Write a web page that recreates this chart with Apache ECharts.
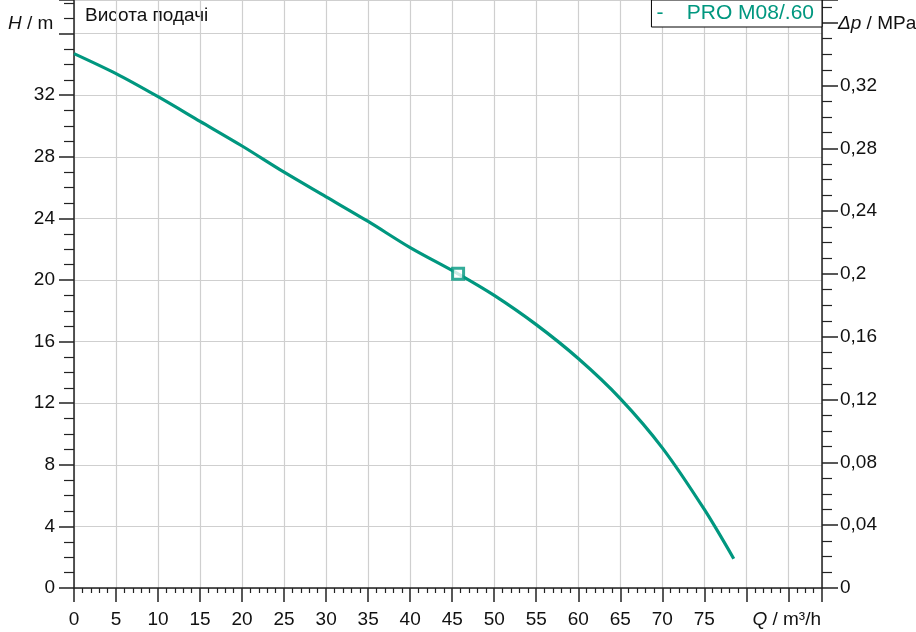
<!DOCTYPE html>
<html><head><meta charset="utf-8">
<script src="https://cdn.jsdelivr.net/npm/echarts@6/dist/echarts.min.js"></script>
<style>html,body{margin:0;padding:0;background:#fff}#c{width:916px;height:632px}</style>
</head><body><div id="c"></div>
<script>
// ---- data ----
const flowQ = [0, 5, 10, 15, 20, 25, 30, 35, 40, 45.7, 50, 55, 60, 65, 70, 75, 78.5];
const headH = [34.7, 33.4, 31.9, 30.3, 28.7, 27.0, 25.4, 23.8, 22.1, 20.4, 19.0, 17.1, 14.9, 12.3, 9.1, 5.1, 1.9];
const dutyPoint = [45.7, 20.4];
const seriesName = 'PRO M08/.60';
const chartTitle = 'Висота подачі';
const xMax = 89;
const hMax = 38.18;
const metresPerMPa = 101.97;
const hiddenXLabelsFrom = 80;
const hiddenHLabel = 36;
const hiddenPLabel = 0.36;

const teal = '#00977f';
const font = 'Liberation Sans, Arial, sans-serif';
const curve = flowQ.map((q, i) => [q, headH[i]]);

const chart = echarts.init(document.getElementById('c'), null, {renderer: 'canvas'});
chart.setOption({
  animation: false,
  backgroundColor: '#fff',
  textStyle: {fontFamily: font},
  grid: {left: 74, right: 94, top: 0, bottom: 44},
  legend: {
    data: [seriesName],
    right: 94, top: 0,
    icon: 'none',
    itemWidth: 0,
    itemGap: 0,
    backgroundColor: '#fff',
    borderColor: '#000', borderWidth: 1, borderRadius: 0,
    padding: [3, 8, 3, 0],
    formatter: n => '-    ' + n,
    textStyle: {color: teal, fontSize: 21, fontFamily: font}
  },
  xAxis: {
    type: 'value', min: 0, max: xMax, interval: 5,
    axisLine: {lineStyle: {color: '#222', width: 1.5}},
    axisTick: {show: true, length: 14, lineStyle: {color: '#222', width: 1.5}},
    minorTick: {show: true, splitNumber: 5, length: 5, lineStyle: {color: '#222', width: 1.2}},
    splitLine: {show: true, lineStyle: {color: '#cfcfcf', width: 1.2}},
    axisLabel: {
      color: '#111', fontSize: 19, margin: 22, fontFamily: font,
      formatter: v => v >= hiddenXLabelsFrom ? '' : String(v)
    }
  },
  yAxis: [{
    type: 'value', min: 0, max: hMax, interval: 4,
    axisLine: {show: true, lineStyle: {color: '#222', width: 1.5}},
    axisTick: {show: true, length: 15, lineStyle: {color: '#222', width: 1.5}},
    minorTick: {show: true, splitNumber: 4, length: 10, lineStyle: {color: '#222', width: 1.2}},
    splitLine: {show: true, lineStyle: {color: '#cfcfcf', width: 1.2}},
    axisLabel: {
      color: '#111', fontSize: 19, margin: 19, fontFamily: font, showMaxLabel: false,
      formatter: v => Math.round(v) === hiddenHLabel ? '' : String(Math.round(v))
    }
  }, {
    type: 'value', position: 'right', min: 0, max: hMax / metresPerMPa, interval: 0.04,
    axisLine: {show: true, lineStyle: {color: '#222', width: 1.5}},
    axisTick: {show: true, length: 16, lineStyle: {color: '#222', width: 1.5}},
    minorTick: {show: true, splitNumber: 4, length: 10, lineStyle: {color: '#222', width: 1.2}},
    splitLine: {show: false},
    axisLabel: {
      color: '#111', fontSize: 19, margin: 18, fontFamily: font, showMaxLabel: false,
      formatter: v => {
        const r = Math.round(v * 100) / 100;
        if (Math.abs(r - hiddenPLabel) < 1e-6) return '';
        return String(r).replace('.', ',');
      }
    }
  }],
  graphic: [
    {type: 'text', left: 85, top: 6, style: {text: chartTitle, fontSize: 19, fill: '#111', fontFamily: font}},
    {type: 'text', left: 8, top: 14, style: {
      text: '{i|H} / m', fontSize: 19, fill: '#111', fontFamily: font,
      rich: {i: {fontStyle: 'italic', fontSize: 19, fontFamily: font}}
    }},
    {type: 'text', right: 95, top: 610, style: {
      text: '{i|Q} / m³/h', fontSize: 19, fill: '#111', fontFamily: font,
      rich: {i: {fontStyle: 'italic', fontSize: 19, fontFamily: font}}
    }},
    {type: 'text', left: 838, top: 14, style: {
      text: '{i|Δp} / MPa', fontSize: 19, fill: '#111', fontFamily: font,
      rich: {i: {fontStyle: 'italic', fontSize: 19, fontFamily: font}}
    }}
  ],
  series: [{
    name: seriesName, type: 'line', data: curve, smooth: 0.3,
    showSymbol: false, yAxisIndex: 0,
    lineStyle: {color: teal, width: 3.2}, itemStyle: {color: teal}
  }, {
    name: 'duty', type: 'scatter', data: [dutyPoint], yAxisIndex: 0,
    symbol: 'rect', symbolSize: 11, z: 5,
    itemStyle: {color: '#fff', borderColor: teal, borderWidth: 3}
  }]
});
</script></body></html>
